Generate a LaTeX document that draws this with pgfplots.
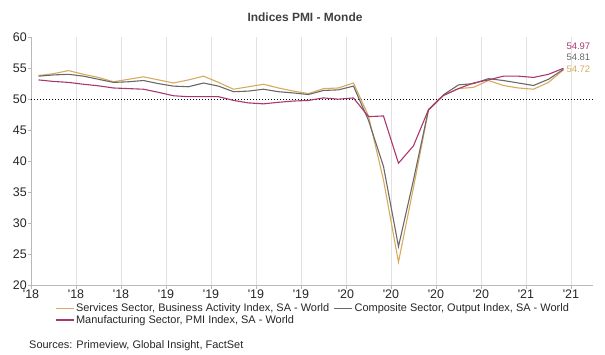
\documentclass[border=0pt]{standalone}
\usepackage{fontspec}
\setmainfont{Liberation Sans}
\usepackage{pgfplots}
\usepackage{pgfplotstable}
\pgfplotsset{compat=1.18}
\definecolor{serv}{RGB}{216,170,95}
\definecolor{comp}{RGB}{105,105,105}
\definecolor{manu}{RGB}{170,55,112}
\definecolor{gridc}{RGB}{225,225,225}
\definecolor{axc}{RGB}{185,185,185}
\definecolor{titlec}{RGB}{64,64,64}

\pgfplotstableread{
x serv comp manu
0.5 53.8 53.7 53.1
1.5 54.1 53.9 52.85
2.5 54.6 54.0 52.7
3.5 54.0 53.7 52.4
4.5 53.5 53.2 52.15
5.5 52.8 52.7 51.8
6.5 53.2 52.8 51.7
7.5 53.6 53.0 51.6
8.5 53.1 52.5 51.1
9.5 52.6 52.1 50.55
10.5 53.1 52.0 50.4
11.5 53.7 52.6 50.4
12.5 52.7 52.1 50.4
13.5 51.6 51.2 49.8
14.5 52.0 51.3 49.4
15.5 52.4 51.6 49.25
16.5 51.8 51.2 49.5
17.5 51.3 51.0 49.7
18.5 50.9 50.75 49.8
19.5 51.7 51.4 50.2
20.5 51.8 51.5 50.0
21.5 52.6 52.1 50.2
22.5 47.3 46.6 47.2
23.5 37.0 39.2 47.3
24.5 23.8 26.3 39.7
25.5 35.8 37.0 42.5
26.5 48.2 48.3 48.3
27.5 50.6 50.7 50.6
28.5 51.7 52.3 51.7
29.5 51.9 52.5 52.6
30.5 53.0 53.3 53.1
31.5 52.2 53.0 53.7
32.5 51.8 52.6 53.7
33.5 51.6 52.2 53.5
34.5 52.7 53.2 54.0
35.5 54.72 54.81 54.97
}\pmidata

\begin{document}
\begin{tikzpicture}
\useasboundingbox (-31bp,-69.3bp) rectangle (574bp,285.7bp);
\begin{axis}[
  at={(0,0)}, anchor=south west,
  scale only axis, width=562bp, height=248.7bp,
  xmin=0, xmax=37.47, ymin=20, ymax=60,
  xtick={0,3,...,36},
  xticklabels={\textquotesingle18,\textquotesingle18,\textquotesingle18,\textquotesingle19,\textquotesingle19,\textquotesingle19,\textquotesingle19,\textquotesingle20,\textquotesingle20,\textquotesingle20,\textquotesingle20,\textquotesingle21,\textquotesingle21},
  ytick={20,25,...,60},
  axis lines*=left,
  axis line style={axc, line width=0.8bp},
  xmajorgrids,
  major grid style={gridc, line width=0.8bp},
  tick style={axc, line width=0.8bp},
  major tick length=3bp,
  tick align=outside,
  /pgf/number format/assume math mode=true,
  ticklabel style={font=\fontsize{12.5}{14}\selectfont, text=black!85},
  yticklabel style={inner sep=1bp},
  xticklabel style={inner sep=1bp},
  legend columns=2,
  legend cell align=left,
  legend style={at={(0.0427,-0.066)}, anchor=north west, draw=none, fill=none,
    font=\fontsize{11}{12}\selectfont, inner sep=0pt, row sep=-1bp,
    nodes={inner sep=1.5bp, text=black!85},
    /tikz/every even column/.append style={column sep=3bp}},
  legend image code/.code={\draw[#1, line width=1.4bp] (0bp,0bp) -- (18bp,0bp);},
  clip=false,
]
\addplot[black, line width=1.1bp, dash pattern=on 1.1bp off 1.9bp, forget plot] coordinates {(0,50) (37.47,50)};
\addplot[serv, line width=1.1bp] table[x=x, y=serv] {\pmidata};
\addlegendentry{Services Sector, Business Activity Index, SA - World}
\addplot[comp, line width=1.1bp] table[x=x, y=comp] {\pmidata};
\addlegendentry{Composite Sector, Output Index, SA - World}
\addplot[manu, line width=1.1bp] table[x=x, y=manu] {\pmidata};
\addlegendentry{Manufacturing Sector, PMI Index, SA - World}
\node[anchor=east, text=manu, font=\fontsize{9.5}{11}\selectfont, inner sep=0pt] at (axis cs:37.3,58.5) {54.97};
\node[anchor=east, text=comp, font=\fontsize{9.5}{11}\selectfont, inner sep=0pt] at (axis cs:37.3,56.7) {54.81};
\node[anchor=east, text=serv, font=\fontsize{9.5}{11}\selectfont, inner sep=0pt] at (axis cs:37.3,54.8) {54.72};
\end{axis}
\node[font=\bfseries\fontsize{12}{14}\selectfont, text=titlec] at (274bp,268.7bp) {Indices PMI - Monde};
\node[anchor=west, font=\fontsize{11}{13}\selectfont, inner sep=0pt, text=black!85] at (-2bp,-60bp) {Sources: Primeview, Global Insight, FactSet};
\end{tikzpicture}
\end{document}
